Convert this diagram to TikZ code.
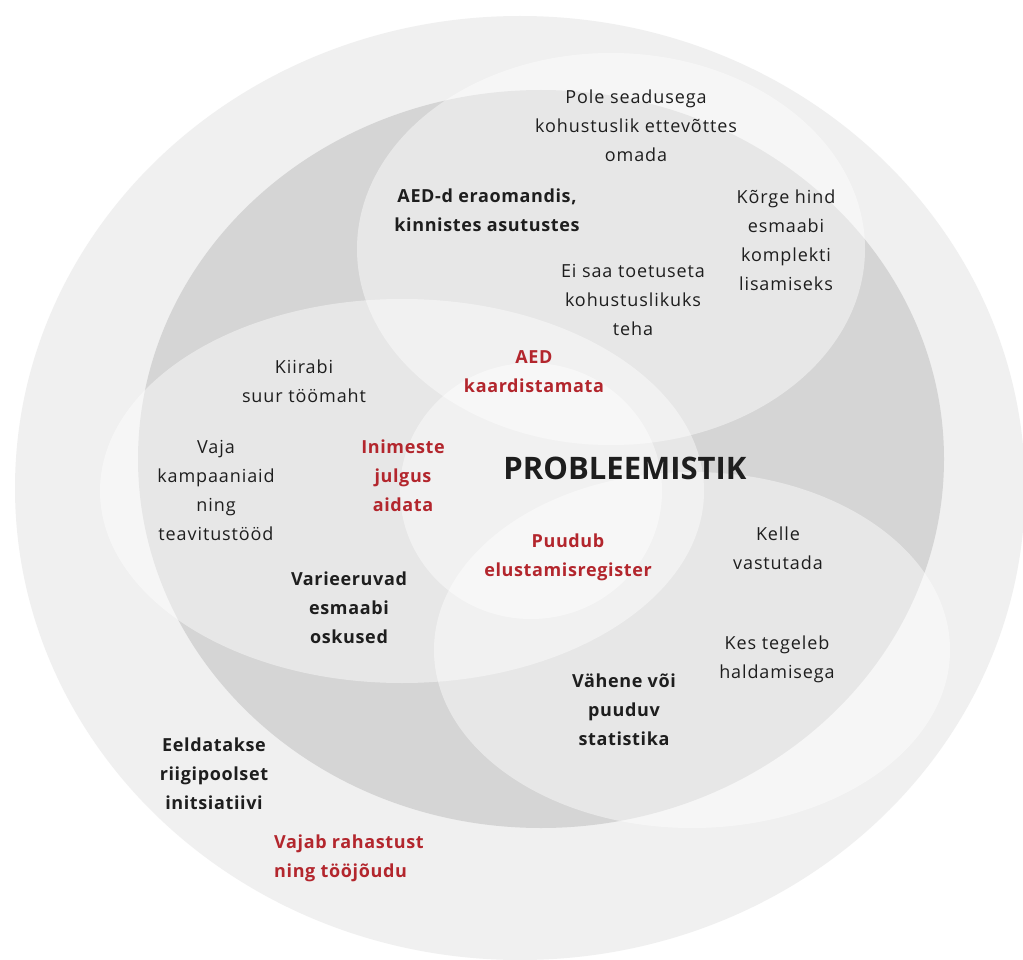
\documentclass[tikz,border=0pt]{standalone}
\usepackage{fontspec}
\setmainfont{Open Sans}
\newfontfamily\regf[LetterSpace=5]{Open Sans}
\newfontfamily\boldf[LetterSpace=3.5]{Open Sans}
\definecolor{outerc}{HTML}{F0F0F0}
\definecolor{darkc}{HTML}{D5D5D5}
\definecolor{txt}{HTML}{1E1E1E}
\definecolor{redt}{HTML}{B3262D}
\begin{document}
\begin{tikzpicture}[x=1pt,y=-1pt,
  veil/.style={fill=white,fill opacity=0.45},
  lbl/.style={align=center,inner sep=0pt,text=txt,font=\regf\fontsize{18}{29}\selectfont},
  blbl/.style={lbl,font=\boldf\bfseries\fontsize{18}{29}\selectfont},
  rlbl/.style={blbl,text=redt}]
\useasboundingbox (0,0) rectangle (1023,960);
\fill[white] (0,0) rectangle (1023,960);
\begin{scope}
\clip (0,0) rectangle (1023,960);
\fill[outerc] (520,488) ellipse [x radius=505pt, y radius=472pt];
\fill[darkc] (541,459) ellipse [x radius=403pt, y radius=369pt];
\fill[veil] (611,249) ellipse [x radius=254pt, y radius=196pt];
\fill[veil] (402,491) ellipse [x radius=302pt, y radius=192pt];
\fill[veil] (692,650) ellipse [x radius=258pt, y radius=178pt];
\fill[veil] (531,491) ellipse [x radius=131pt, y radius=128pt];
\end{scope}
\node[lbl]  (pole)  at (636,126) {Pole seadusega\\kohustuslik ettevõttes\\omada};
\node[blbl] (aedd)  at (487,210) {AED-d eraomandis,\\kinnistes asutustes};
\node[lbl]  (korge) at (786,240) {Kõrge hind\\esmaabi\\komplekti\\lisamiseks};
\node[lbl]  (eisaa) at (633,300) {Ei saa toetuseta\\kohustuslikuks\\teha};
\node[rlbl] (aedk)  at (534,372) {AED\\kaardistamata};
\node[lbl]  (kiir)  at (304,381) {Kiirabi\\suur töömaht};
\node[lbl]  (vaja)  at (216,490) {Vaja\\kampaaniaid\\ning\\teavitustööd};
\node[rlbl] (inim)  at (403,476) {Inimeste\\julgus\\aidata};
\node[inner sep=0pt,text=txt,font=\bfseries\fontsize{31}{36}\selectfont] (prob) at (625,468) {PROBLEEMISTIK};
\node[rlbl] (puud)  at (568,557) {Puudub\\elustamisregister};
\node[lbl]  (kelle) at (778,548) {Kelle\\vastutada};
\node[blbl] (vari)  at (349,608) {Varieeruvad\\esmaabi\\oskused};
\node[lbl]  (kes)   at (777,659) {Kes tegeleb\\haldamisega};
\node[blbl] (vah)   at (624,710) {Vähene või\\puuduv\\statistika};
\node[blbl] (eeld)  at (214,774) {Eeldatakse\\riigipoolset\\initsiatiivi};
\node[rlbl,align=left,anchor=west] (vajab) at (274,858) {Vajab rahastust\\ning tööjõudu};
\end{tikzpicture}
\end{document}
